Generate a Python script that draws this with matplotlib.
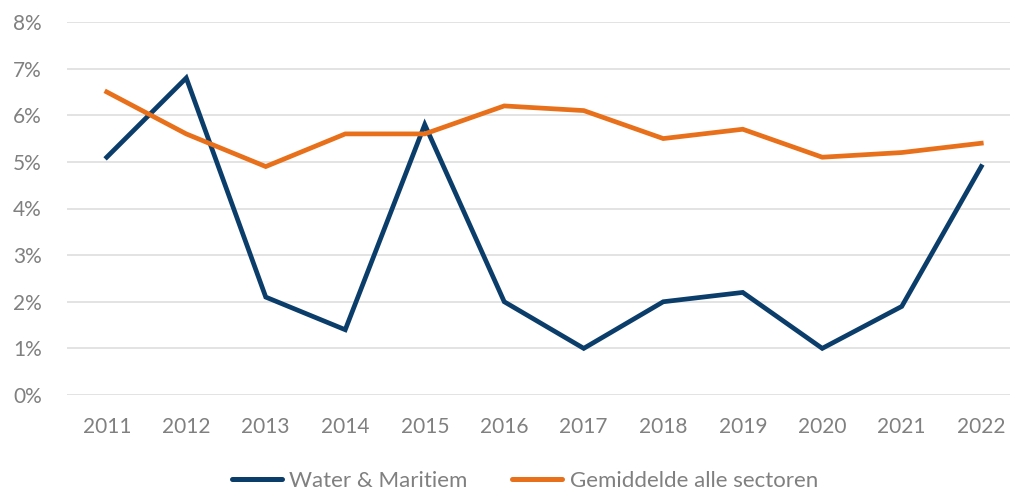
import matplotlib
matplotlib.use("Agg")
import matplotlib.pyplot as plt
from matplotlib.ticker import FuncFormatter

years = ["2011", "2012", "2013", "2014", "2015", "2016", "2017", "2018", "2019", "2020", "2021", "2022"]
water = [5.1, 6.8, 2.1, 1.4, 5.8, 2.0, 1.0, 2.0, 2.2, 1.0, 1.9, 4.9]
gemiddelde = [6.5, 5.6, 4.9, 5.6, 5.6, 6.2, 6.1, 5.5, 5.7, 5.1, 5.2, 5.4]

plt.rcParams['font.family'] = ['Lato', 'DejaVu Sans']

fig = plt.figure(figsize=(10.10, 4.91), dpi=100)
ax = fig.add_axes([67/1010, 1-395/491, (1021-67)/1010, (395-22)/491])

x = list(range(len(years)))
navy = "#0B3D6B"
orange = "#E8701A"
ax.plot(x, water, color=navy, lw=3.4, solid_joinstyle='miter', label="Water & Maritiem", zorder=3)
ax.plot(x, gemiddelde, color=orange, lw=3.4, solid_joinstyle='miter', label="Gemiddelde alle sectoren", zorder=3)

ax.set_xlim(-0.5, len(years) - 0.5)
ax.set_ylim(0, 8)
ax.set_yticks(range(0, 9))
ax.yaxis.set_major_formatter(FuncFormatter(lambda v, p: f"{int(v)}%"))
ax.set_xticks(x)
ax.set_xticklabels(years)
ax.grid(axis='y', color='#E3E3E3', lw=1.4, zorder=0)
ax.set_axisbelow(True)
for s in ax.spines.values():
    s.set_visible(False)
ax.tick_params(length=0, colors='#808080', labelsize=15)
ax.tick_params(axis='y', pad=18)
ax.tick_params(axis='x', pad=16)

leg = fig.legend(loc='center', bbox_to_anchor=(525/1010, 1-481/491), ncol=2, frameon=False,
                 fontsize=16, handlelength=2.25, handletextpad=0.35, columnspacing=2.0,
                 labelcolor='#808080')
for h in leg.legend_handles:
    h.set_linewidth(3.6)
    h.set_solid_capstyle('round')
fig.savefig("out.png", dpi=100)
